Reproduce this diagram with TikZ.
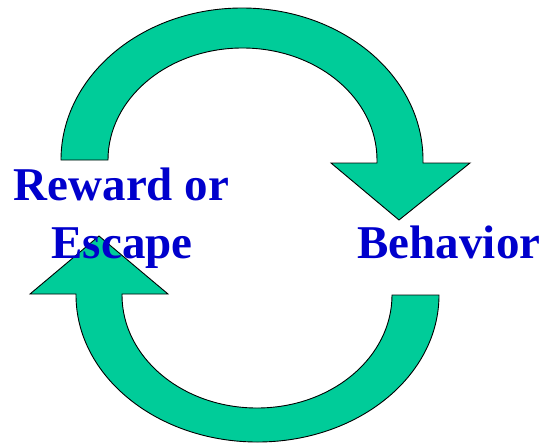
\documentclass[tikz,border=0pt]{standalone}
\usepackage{fontspec}
\setmainfont{Liberation Serif}
\usepackage{xcolor}
\usepackage{tikz}
\definecolor{loopgreen}{RGB}{0,204,153}
\definecolor{loopblue}{RGB}{0,0,204}
\tikzset{
  looparrow/.style={fill=loopgreen, draw=black, line width=0.9pt, line join=miter},
  looptext/.style={text=loopblue, font=\fontsize{47}{58}\selectfont\bfseries, anchor=base, inner sep=0pt}
}

\begin{document}
\begin{tikzpicture}[x=1pt, y=1pt]
  \useasboundingbox (0,0) rectangle (548,-445);
  % upper half ring, head pointing down on the right
  \filldraw[looparrow] (61,-160) arc[start angle=180, end angle=0, x radius=181, y radius=152]
    -- (423,-163) -- (470,-163) -- (399,-220) -- (331,-163) -- (377,-163) -- (377,-160)
    arc[start angle=0, end angle=180, x radius=134.5, y radius=112] -- cycle;
  % lower half ring, head pointing up on the left
  \filldraw[looparrow] (439,-295) arc[start angle=0, end angle=-180, x radius=181.5, y radius=147]
    -- (76,-294) -- (30,-294) -- (99,-236) -- (168,-294) -- (122,-294) -- (122,-295)
    arc[start angle=180, end angle=360, x radius=135, y radius=113] -- cycle;
  \node[looptext] (reward) at (121.5,-200) {Reward or};
  \node[looptext] (escape) at (122,-258) {Escape};
  \node[looptext] (behavior) at (449,-258) {Behavior};
\end{tikzpicture}
\end{document}
